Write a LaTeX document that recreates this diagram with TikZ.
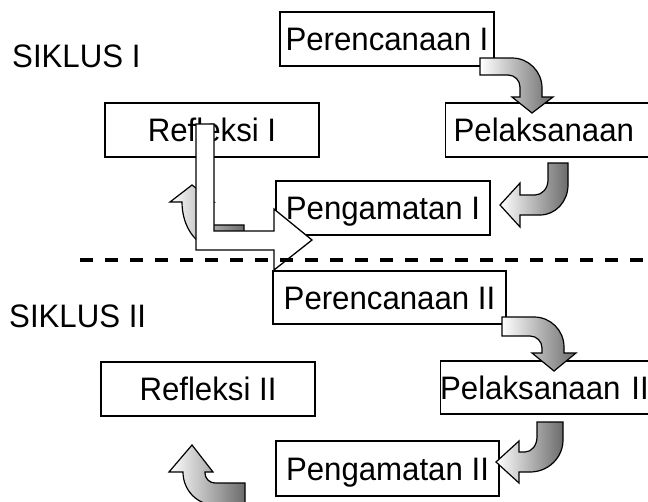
\documentclass[tikz,border=0pt]{standalone}
\usepackage{fontspec}
\setmainfont{Liberation Sans}[FakeStretch=0.96]
\begin{document}
\begin{tikzpicture}[x=1pt,y=-1pt,
  lbl/.style={font=\fontsize{32.5}{38}\selectfont, inner sep=0pt},
  boxn/.style={draw, line width=1.3pt, fill=white, font=\fontsize{32.5}{38}\selectfont,
    inner sep=0pt, text height=23.3pt, text depth=0pt, minimum height=54pt},
  blockarr/.style={draw, line width=1.2pt, line join=miter, left color=white, right color=black!58},
  larrow/.style={draw, line width=1.3pt, fill=white},
  sepline/.style={line width=4pt, dash pattern=on 13pt off 12pt}
]
\useasboundingbox (0,0) rectangle (648,501);
\begin{scope}
\clip (0,0) rectangle (648,501);

% labels
\node[lbl, anchor=base west] (s1) at (12,67) {SIKLUS I};
\node[lbl, anchor=base west] (s2) at (9,327) {SIKLUS II};

% boxes, cycle I
\node[boxn, minimum width=214pt] (perI) at (387,39) {Perencanaan I};
\node[boxn, minimum width=214pt] (refI) at (212,130) {Refleksi I};
\node[boxn, anchor=west, text width=198pt, align=left, inner xsep=8pt] (pelI) at (445,130) {Pelaksanaan};
\node[boxn, minimum width=214pt] (pgmI) at (383,208) {Pengamatan I};

% boxes, cycle II
\node[boxn, minimum width=233pt, minimum height=53pt] (perII) at (389.5,297.5) {Perencanaan II};
\node[boxn, minimum width=214pt] (refII) at (208,389) {Refleksi II};
\node[boxn, anchor=west, text width=220pt, align=left, inner xsep=0pt, minimum height=53pt] (pelII) at (439.5,387.5) {Pelaksanaan II};
\node[boxn, minimum width=223pt, minimum height=55pt] (pgmII) at (387.5,468.5) {Pengamatan II};

% curved block arrows, cycle I
\path[blockarr, shift={(480,58)}] (0,0) -- (32,0) .. controls (48.6,0) and (62,13.4) .. (62,30)
  -- (62,39) -- (73,39) -- (52,55) -- (32,39) -- (40,39) -- (40,29)
  .. controls (40,22.4) and (34.6,17) .. (28,17) -- (0,17) -- cycle;
\path[blockarr, shift={(548,163)}] (0,0) -- (20,0) -- (20,22) .. controls (20,38.6) and (7.5,52) .. (-8,52)
  -- (-28,52) -- (-28,64) -- (-48,42) -- (-28,20) -- (-28,32) -- (-13,32)
  .. controls (-5.8,32) and (0,25.3) .. (0,17) -- cycle;
\path[blockarr] (192,185) -- (214,202) -- (204,202) -- (204,212) .. controls (204,219.2) and (208.5,225) .. (214,225)
  -- (244,225) -- (244,247) -- (214,247) .. controls (196.3,247) and (182,226.8) .. (182,202)
  -- (170,202) -- cycle;

% curved block arrows, cycle II
\path[blockarr, shift={(502,317)}] (0,0) -- (32,0) .. controls (48.6,0) and (62,13.4) .. (62,30)
  -- (62,36) -- (74,36) -- (52,54) -- (30,36) -- (40,36) -- (40,31)
  .. controls (40,24.4) and (34.6,19) .. (28,19) -- (0,19) -- cycle;
\path[blockarr, shift={(537,422)}] (0,0) -- (26,0) -- (26,18) .. controls (26,35.7) and (11.2,50) .. (-7,50)
  -- (-18,50) -- (-18,61) -- (-41,40) -- (-18,19) -- (-18,30) -- (-12,30)
  .. controls (-5.4,30) and (0,23.3) .. (0,15) -- cycle;
\path[blockarr] (192,445) -- (213,472) -- (205,472) -- (205,473) .. controls (205,478.5) and (209.5,483) .. (215,483)
  -- (245,483) -- (245,505) -- (215,505) .. controls (197.3,505) and (183,490.2) .. (183,472)
  -- (169,472) -- cycle;

% L-shaped arrow from cycle I to cycle II
\path[larrow] (196,124) -- (214,124) -- (214,231) -- (274,231) -- (274,209) -- (312,240)
  -- (274,270) -- (274,250) -- (196,250) -- cycle;

% separator
\coordinate (sepL) at (80,260);
\coordinate (sepR) at (660,260);
\draw[sepline] (sepL) -- (sepR);
\end{scope}
\end{tikzpicture}
\end{document}
